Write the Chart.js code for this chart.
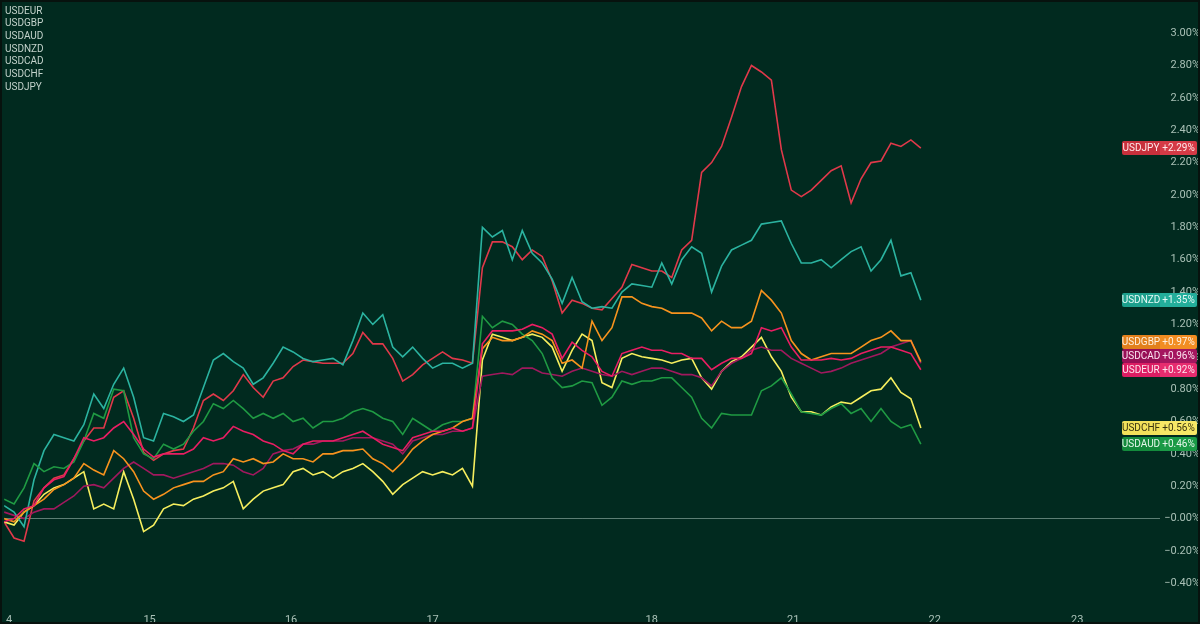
<!DOCTYPE html>
<html>
<head>
<meta charset="utf-8">
<script src="https://cdn.jsdelivr.net/npm/chart.js@4"></script>
<style>
  html, body { margin: 0; padding: 0; background: #012a1f; }
  #wrap { width: 1200px; height: 624px; position: relative; }
</style>
</head>
<body>
<div id="wrap"><canvas id="fx-chart" width="1200" height="624"></canvas></div>
<script>
// % change since start, one value every sample step
const seriesNames = ['USDEUR', 'USDGBP', 'USDAUD', 'USDNZD', 'USDCAD', 'USDCHF', 'USDJPY'];

const usdeur = [
  -0.02, 0.00, 0.06, 0.08, 0.19, 0.24, 0.26, 0.37, 0.50, 0.48,
  0.50, 0.56, 0.60, 0.52, 0.43, 0.38, 0.40, 0.40, 0.40, 0.43,
  0.50, 0.48, 0.50, 0.57, 0.54, 0.52, 0.48, 0.46, 0.42, 0.40,
  0.46, 0.48, 0.48, 0.48, 0.50, 0.52, 0.54, 0.50, 0.46, 0.44,
  0.42, 0.50, 0.52, 0.54, 0.54, 0.56, 0.54, 0.56, 1.08, 1.16,
  1.16, 1.16, 1.17, 1.20, 1.18, 1.14, 0.99, 1.09, 1.04, 1.00,
  0.91, 0.88, 1.02, 1.04, 1.06, 1.04, 1.04, 1.02, 1.02, 0.99,
  0.99, 0.92, 0.96, 0.99, 0.99, 1.02, 1.18, 1.16, 1.18, 1.06,
  0.98, 0.98, 0.98, 0.99, 0.98, 0.99, 1.02, 1.04, 1.06, 1.06,
  1.04, 1.02, 0.92
];
const usdgbp = [
  0.00, -0.02, 0.04, 0.08, 0.12, 0.18, 0.21, 0.25, 0.34, 0.30,
  0.27, 0.42, 0.37, 0.29, 0.17, 0.12, 0.15, 0.19, 0.21, 0.23,
  0.23, 0.27, 0.29, 0.37, 0.35, 0.37, 0.34, 0.35, 0.40, 0.37,
  0.37, 0.35, 0.40, 0.40, 0.42, 0.42, 0.43, 0.37, 0.34, 0.29,
  0.35, 0.43, 0.48, 0.52, 0.54, 0.56, 0.60, 0.62, 1.05, 1.12,
  1.10, 1.10, 1.12, 1.16, 1.14, 1.10, 0.96, 0.98, 0.93, 1.22,
  1.10, 1.18, 1.37, 1.37, 1.33, 1.31, 1.30, 1.27, 1.27, 1.27,
  1.24, 1.16, 1.22, 1.18, 1.18, 1.22, 1.41, 1.35, 1.27, 1.10,
  1.02, 0.98, 1.00, 1.02, 1.02, 1.02, 1.06, 1.10, 1.12, 1.16,
  1.10, 1.10, 0.97
];
const usdaud = [
  0.12, 0.09, 0.19, 0.34, 0.29, 0.32, 0.31, 0.35, 0.48, 0.65,
  0.62, 0.80, 0.79, 0.50, 0.40, 0.37, 0.46, 0.43, 0.46, 0.54,
  0.60, 0.71, 0.68, 0.73, 0.68, 0.62, 0.65, 0.62, 0.65, 0.60,
  0.62, 0.56, 0.60, 0.60, 0.62, 0.66, 0.68, 0.66, 0.62, 0.60,
  0.52, 0.62, 0.58, 0.54, 0.58, 0.60, 0.60, 0.62, 1.25, 1.18,
  1.22, 1.20, 1.14, 1.10, 1.02, 0.87, 0.81, 0.82, 0.85, 0.84,
  0.70, 0.75, 0.85, 0.83, 0.85, 0.85, 0.87, 0.87, 0.81, 0.75,
  0.62, 0.56, 0.65, 0.64, 0.64, 0.64, 0.79, 0.82, 0.87, 0.77,
  0.66, 0.65, 0.64, 0.68, 0.71, 0.65, 0.68, 0.60, 0.68, 0.60,
  0.56, 0.58, 0.46
];
const usdnzd = [
  0.08, 0.04, -0.05, 0.24, 0.42, 0.52, 0.50, 0.48, 0.58, 0.77,
  0.68, 0.83, 0.93, 0.75, 0.50, 0.48, 0.65, 0.63, 0.60, 0.64,
  0.81, 0.98, 1.02, 0.97, 0.93, 0.83, 0.87, 0.96, 1.06, 1.03,
  0.99, 0.97, 0.98, 0.99, 0.95, 1.10, 1.27, 1.20, 1.26, 1.06,
  1.00, 1.06, 0.99, 0.93, 0.96, 0.96, 0.93, 0.96, 1.80, 1.74,
  1.78, 1.60, 1.78, 1.64, 1.58, 1.48, 1.33, 1.49, 1.34, 1.30,
  1.31, 1.30, 1.40, 1.45, 1.44, 1.43, 1.58, 1.45, 1.60, 1.68,
  1.64, 1.40, 1.56, 1.66, 1.69, 1.72, 1.82, 1.83, 1.84, 1.70,
  1.58, 1.58, 1.60, 1.55, 1.60, 1.65, 1.68, 1.53, 1.60, 1.72,
  1.50, 1.52, 1.35
];
const usdcad = [
  0.04, 0.02, 0.00, 0.04, 0.06, 0.06, 0.10, 0.14, 0.20, 0.21,
  0.19, 0.25, 0.31, 0.35, 0.31, 0.27, 0.27, 0.25, 0.27, 0.29,
  0.31, 0.34, 0.34, 0.33, 0.29, 0.27, 0.31, 0.40, 0.42, 0.43,
  0.46, 0.46, 0.48, 0.48, 0.48, 0.50, 0.50, 0.50, 0.48, 0.46,
  0.40, 0.48, 0.50, 0.52, 0.52, 0.54, 0.54, 0.56, 0.88, 0.89,
  0.90, 0.89, 0.93, 0.93, 0.90, 0.89, 0.88, 0.91, 0.93, 0.91,
  0.89, 0.88, 0.91, 0.89, 0.91, 0.93, 0.93, 0.91, 0.89, 0.89,
  0.87, 0.82, 0.91, 0.96, 0.99, 1.04, 1.06, 1.04, 1.04, 0.99,
  0.96, 0.93, 0.90, 0.91, 0.93, 0.96, 0.98, 1.00, 1.02, 1.06,
  1.08, 1.10, 0.96
];
const usdchf = [
  -0.02, -0.04, 0.04, 0.08, 0.15, 0.19, 0.21, 0.25, 0.29, 0.06,
  0.09, 0.06, 0.29, 0.12, -0.08, -0.04, 0.06, 0.09, 0.08, 0.12,
  0.14, 0.17, 0.19, 0.23, 0.06, 0.12, 0.17, 0.19, 0.21, 0.29,
  0.31, 0.27, 0.29, 0.25, 0.29, 0.31, 0.34, 0.29, 0.23, 0.15,
  0.21, 0.25, 0.29, 0.27, 0.29, 0.27, 0.31, 0.20, 0.98, 1.14,
  1.12, 1.10, 1.12, 1.14, 1.12, 1.06, 0.91, 1.04, 1.14, 1.10,
  0.84, 0.81, 0.99, 1.02, 1.00, 0.99, 0.98, 0.96, 0.98, 0.99,
  0.87, 0.80, 0.91, 0.97, 1.00, 1.06, 1.12, 1.00, 0.91, 0.75,
  0.66, 0.66, 0.64, 0.69, 0.72, 0.71, 0.75, 0.79, 0.80, 0.87,
  0.78, 0.74, 0.56
];
const usdjpy = [
  -0.02, -0.12, -0.14, 0.11, 0.19, 0.25, 0.27, 0.37, 0.48, 0.56,
  0.56, 0.75, 0.79, 0.62, 0.41, 0.36, 0.40, 0.42, 0.43, 0.56,
  0.73, 0.77, 0.73, 0.79, 0.89, 0.81, 0.75, 0.85, 0.87, 0.94,
  0.98, 0.97, 0.96, 0.96, 0.96, 1.02, 1.15, 1.08, 1.08, 0.99,
  0.85, 0.89, 0.95, 0.99, 1.03, 0.99, 0.98, 0.96, 1.55, 1.71,
  1.71, 1.68, 1.60, 1.66, 1.62, 1.47, 1.27, 1.35, 1.33, 1.30,
  1.29, 1.36, 1.43, 1.57, 1.55, 1.53, 1.53, 1.49, 1.66, 1.72,
  2.14, 2.20, 2.30, 2.48, 2.67, 2.80, 2.76, 2.71, 2.28, 2.03,
  1.99, 2.03, 2.09, 2.15, 2.18, 1.95, 2.10, 2.20, 2.21, 2.32,
  2.30, 2.34, 2.29
];

// time axis in sample steps
const xTickAt = [0.5, 14.6, 28.8, 43, 65, 79.2, 93.4, 107.7];
const xTickLabels = ['4', '15', '16', '17', '18', '21', '22', '23'];
const yTicks = [-0.4, -0.2, 0, 0.2, 0.4, 0.6, 0.8, 1.0, 1.2, 1.4, 1.6, 1.8, 2.0, 2.2, 2.4, 2.6, 2.8, 3.0];
const yTickLabels = ['\u22120.40%', '\u22120.20%', '\u22120.00%', '0.20%', '0.40%', '0.60%', '0.80%', '1.00%', '1.20%',
  '1.40%', '1.60%', '1.80%', '2.00%', '2.20%', '2.40%', '2.60%', '2.80%', '3.00%'];

const allSeries = [usdeur, usdgbp, usdaud, usdnzd, usdcad, usdchf, usdjpy];

const lineColors = ['#e91e63', '#f7931e', '#1f9a43', '#2bb3a0', '#a0195e', '#f6ee5e', '#e0394a'];
const tagNameColors = ['#dc1d63', '#e2801c', '#138a3c', '#1c9f8c', '#970f55', '#f2e15a', '#c8303c'];
const tagValueColors = ['#e72c6f', '#f28d22', '#1a9a46', '#23ae9b', '#a4165f', '#f7e866', '#d43a46'];
const tagTextColors = ['#fde6ee', '#fff1e0', '#e6f7ec', '#e6faf6', '#fbe3ef', '#3a3410', '#ffe8ea'];

const bgColor = '#012a1f';
const axisText = '#a9c0b6';
const font = { family: 'Roboto, "Open Sans", sans-serif', size: 11 };

const bgPlugin = {
  id: 'bg',
  beforeDraw(chart) {
    const ctx = chart.ctx;
    ctx.save();
    ctx.fillStyle = bgColor;
    ctx.fillRect(0, 0, chart.width, chart.height);
    ctx.restore();
  }
};

function drawTag(ctx, i, value, y) {
  const h = 14;
  const top = Math.round(y - h / 2);
  ctx.fillStyle = tagNameColors[i];
  ctx.beginPath();
  ctx.roundRect(1122, top, 38, h, [2, 0, 0, 2]);
  ctx.fill();
  ctx.fillStyle = tagValueColors[i];
  ctx.beginPath();
  ctx.roundRect(1160, top, 37, h, [0, 2, 2, 0]);
  ctx.fill();
  ctx.fillStyle = tagTextColors[i];
  ctx.font = '10px Roboto, "Open Sans", sans-serif';
  ctx.textAlign = 'center';
  ctx.textBaseline = 'middle';
  ctx.fillText(seriesNames[i], 1141, top + h / 2 + 0.5);
  ctx.fillText('+' + value.toFixed(2) + '%', 1178.5, top + h / 2 + 0.5);
}

const overlayPlugin = {
  id: 'overlay',
  afterDraw(chart) {
    const ctx = chart.ctx;
    const yScale = chart.scales.y;
    ctx.save();

    // series list, top left
    ctx.font = '10px Roboto, "Open Sans", sans-serif';
    ctx.fillStyle = '#c3d2cb';
    ctx.textAlign = 'left';
    ctx.textBaseline = 'middle';
    seriesNames.forEach((name, i) => ctx.fillText(name, 5, 11 + i * 12.7));

    // last value tags, pushed up when they overlap
    const tags = allSeries.map((data, i) => {
      const value = data[data.length - 1];
      return { i, value, y: yScale.getPixelForValue(value) };
    }).sort((a, b) => b.y - a.y);
    for (let k = 1; k < tags.length; k++) {
      if (tags[k].y > tags[k - 1].y - 14) tags[k].y = tags[k - 1].y - 14;
    }
    tags.forEach(t => drawTag(ctx, t.i, t.value, t.y));

    // frame
    ctx.strokeStyle = '#07120e';
    ctx.lineWidth = 2;
    ctx.strokeRect(1, 1, chart.width - 2, chart.height - 2);
    ctx.restore();
  }
};

const datasets = allSeries.map((data, i) => ({
  label: seriesNames[i],
  data: data.map((v, k) => ({ x: k, y: v })),
  borderColor: lineColors[i],
  borderWidth: 1.6,
  pointRadius: 0,
  tension: 0,
  fill: false
}));

new Chart(document.getElementById('fx-chart').getContext('2d'), {
  type: 'line',
  data: { datasets },
  options: {
    responsive: false,
    animation: false,
    devicePixelRatio: 1,
    layout: { padding: 0 },
    plugins: { legend: { display: false }, tooltip: { enabled: false } },
    scales: {
      x: {
        type: 'linear',
        min: 0,
        max: 116,
        afterFit(s) { s.height = 24; },
        afterBuildTicks(s) { s.ticks = xTickAt.map(v => ({ value: v })); },
        ticks: {
          autoSkip: false,
          maxRotation: 0,
          color: axisText,
          font,
          padding: 6,
          callback: (v, i) => xTickLabels[i]
        },
        grid: { display: false },
        border: { display: false }
      },
      y: {
        position: 'right',
        min: -0.503,
        max: 3.164,
        afterFit(s) { s.width = 40; },
        afterBuildTicks(s) { s.ticks = yTicks.map(v => ({ value: v })); },
        ticks: {
          color: axisText,
          font,
          crossAlign: 'far',
          padding: 0,
          callback: (v, i) => yTickLabels[i]
        },
        grid: {
          drawTicks: false,
          color: ctx => (ctx.tick && ctx.tick.value === 0 ? 'rgba(170,195,185,0.55)' : 'rgba(0,0,0,0)')
        },
        border: { display: false }
      }
    }
  },
  plugins: [bgPlugin, overlayPlugin]
});
</script>
</body>
</html>
